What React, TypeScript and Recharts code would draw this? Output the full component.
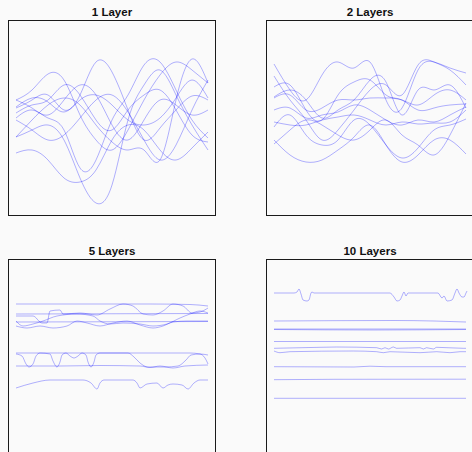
import React from 'react';
import { LineChart, Line, XAxis, YAxis } from 'recharts';

// x grid (step index) for the smooth panels
const GRID_X = [0, 8, 16, 24, 32, 40, 48, 56, 64, 72, 80, 88, 96];

// 1 Layer: ten sampled functions
const LAYER1: number[][] = [
  [78, 85, 90, 75, 37, 12, 30, 95, 130, 145, 120, 90, 65],
  [107, 115, 120, 105, 120, 153, 143, 105, 75, 87, 105, 119, 115],
  [115, 125, 141, 135, 100, 75, 65, 85, 115, 140, 153, 145, 132],
  [102, 110, 115, 130, 120, 95, 85, 105, 120, 125, 105, 80, 73],
  [62, 65, 55, 37, 33, 45, 75, 90, 85, 65, 55, 67, 83],
  [97, 105, 97, 85, 47, 55, 95, 120, 150, 153, 125, 95, 77],
  [108, 117, 113, 103, 115, 120, 110, 95, 90, 97, 117, 135, 117],
  [95, 85, 75, 80, 97, 115, 120, 103, 75, 55, 70, 105, 135],
  [78, 95, 110, 117, 110, 90, 73, 65, 65, 55, 115, 156, 132],
  [115, 107, 100, 115, 130, 120, 90, 75, 95, 115, 110, 100, 105],
];

// 2 Layers
const LAYER2: number[][] = [
  [151, 125, 115, 140, 153, 147, 153, 115, 107, 145, 153, 147, 142],
  [139, 115, 95, 75, 85, 105, 125, 130, 120, 150, 153, 145, 130],
  [128, 130, 105, 95, 120, 133, 135, 120, 115, 110, 120, 125, 115],
  [117, 120, 105, 107, 115, 115, 117, 117, 115, 105, 107, 110, 111],
  [105, 107, 97, 100, 103, 110, 105, 95, 90, 95, 93, 100, 108],
  [93, 90, 90, 95, 98, 100, 95, 90, 93, 91, 92, 93, 105],
  [88, 100, 80, 70, 75, 95, 90, 70, 57, 67, 85, 90, 96],
  [75, 60, 53, 55, 65, 78, 90, 70, 53, 60, 75, 75, 61],
  [71, 85, 95, 90, 80, 75, 85, 95, 80, 70, 60, 80, 112],
  [118, 125, 115, 97, 105, 115, 135, 133, 100, 125, 125, 130, 107],
];

// 5 Layers: [x, value] pairs
const LAYER5: number[][][] = [
  [[0, 150], [67, 150], [87, 149.5], [96, 148]],
  [[0, 138], [8.5, 138], [13, 131], [15.5, 131], [17, 143], [22, 144], [23.5, 140], [32, 141], [40.5, 139], [47, 145], [53.5, 150], [58.5, 148], [63.5, 140], [68.5, 139], [73.5, 143], [78.5, 150], [83.5, 148], [88, 141], [92, 142], [96, 146]],
  [[0, 133], [3.5, 128], [8.5, 130], [13.5, 133], [20.5, 138], [30.5, 140], [38.5, 138], [42, 133], [47, 130], [53.5, 131], [62, 130], [68.5, 128], [75.5, 130], [82, 136], [87, 140], [92, 143], [96, 141]],
  [[0, 128], [5.5, 126], [12, 128], [18.5, 126], [25.5, 128], [30.5, 133], [35.5, 131], [42, 128], [48.5, 131], [55.5, 133], [62, 129], [68.5, 126], [73.5, 128], [78.5, 132], [85.5, 133], [96, 133]],
  [[0, 140], [96, 140.5]],
  [[0, 132], [96, 132.5]],
  [[0, 101], [67, 101], [87, 101], [92, 100], [94.5, 96], [96, 90]],
  [[0, 100], [3, 98], [5, 90], [6.5, 87], [8.5, 90], [10, 98], [12, 101], [17, 100], [18.5, 93], [20.5, 87], [22, 92], [23, 99], [25, 101], [27, 98], [29, 96], [31, 98], [33, 101], [35, 99], [36, 92], [37.5, 87], [39, 92], [40, 99], [42, 101], [56, 101], [59, 97], [62, 91], [66, 87], [74.5, 87], [81, 88], [85, 94], [87.5, 99], [92, 100], [96, 99]],
  [[0, 88], [22, 88], [42, 88.5], [62, 88], [67, 86.5], [72, 88], [78.5, 86], [84.5, 88], [96, 89]],
  [[0, 66], [8.5, 71], [17, 74], [33.5, 74], [37.5, 71], [40.5, 65], [42, 71], [44, 74], [58.5, 74], [60.5, 71], [62, 66], [65.5, 70], [70.5, 71], [73.5, 66], [76, 69], [78.5, 70], [83, 69], [86, 65], [89, 71], [92, 74], [96, 74]],
];

// 10 Layers
const LAYER10: number[][][] = [
  [[0, 161], [10, 161], [11.5, 162], [12.5, 165], [13.5, 160], [14.5, 154], [16.5, 153], [17.5, 154], [18.5, 161], [19, 162], [20, 161], [58, 161], [60, 157], [61.5, 153], [63, 154], [64, 158], [65, 162], [66, 158], [67, 161], [82, 161], [84, 156], [85, 158], [86.5, 153], [89, 154], [90.5, 161], [91.5, 165], [92.5, 161], [94, 157], [95, 157], [96, 161], [96.5, 163]],
  [[0, 133], [60, 133.5], [80, 133], [96, 132]],
  [[0, 125], [96, 125]],
  [[0, 124.5], [50, 124], [96, 124.5]],
  [[0, 112.5], [96, 112.5]],
  [[0, 105.7], [23, 106.7], [31.3, 107], [51.3, 106.3], [53.8, 105], [55.5, 106.3], [57.2, 105], [59.7, 107], [61.3, 105.7], [73, 106.3], [74.7, 105], [76.3, 106.3], [79.7, 105], [81.3, 106.7], [94.7, 105.7], [96, 105.7]],
  [[0, 103], [3, 101.3], [8, 102.3], [39.7, 103], [51.3, 102.3], [54.7, 101.3], [58, 102.3], [73, 101.3], [81.3, 102.3], [88, 101.3], [93, 102.3], [96, 102.3]],
  [[0, 87.3], [40, 87], [48, 87.8], [56, 87.3], [96, 87.3]],
  [[0, 74.3], [30, 74.7], [96, 74.8]],
  [[0, 55.7], [96, 55.7]],
];

type Pt = { u: number; v: number };

const fromGrid = (rows: number[][]): Pt[][] =>
  rows.map((r) => r.map((v, i) => ({ u: GRID_X[i], v })));
const fromPairs = (rows: number[][][]): Pt[][] =>
  rows.map((r) => r.map(([u, v]) => ({ u, v })));

const W = 206;
const H = 194;

function Panel({
  title,
  left,
  top,
  series,
  curve,
}: {
  title: string;
  left: number;
  top: number;
  series: Pt[][];
  curve: 'natural' | 'monotone';
}) {
  return (
    <>
      <div
        style={{
          position: 'absolute',
          left: left + 44,
          top: top - 14,
          width: 120,
          textAlign: 'center',
          fontFamily: '"Liberation Sans", Arial, sans-serif',
          fontWeight: 'bold',
          fontSize: 11.5,
          lineHeight: '12px',
          color: '#111',
        }}
      >
        {title}
      </div>
      <div
        style={{
          position: 'absolute',
          left,
          top,
          width: W,
          height: H,
          border: '1px solid #1a1a1a',
          background: '#fafafa',
        }}
      >
        <LineChart width={W} height={H} margin={{ top: 0, right: 0, bottom: 0, left: 0 }}>
          <XAxis type="number" dataKey="u" domain={[-3.5, 99.5]} allowDataOverflow hide />
          <YAxis type="number" domain={[0, 194]} allowDataOverflow hide />
          {series.map((s, i) => (
            <Line
              key={i}
              data={s}
              dataKey="v"
              type={curve}
              stroke="#0000ff"
              strokeOpacity={0.3}
              strokeWidth={1}
              dot={false}
              activeDot={false}
              isAnimationActive={false}
            />
          ))}
        </LineChart>
      </div>
    </>
  );
}

export default function App() {
  return (
    <div
      style={{
        position: 'absolute',
        left: 0,
        top: 0,
        width: 472,
        height: 452,
        overflow: 'hidden',
        background: '#fafafa',
      }}
    >
      <Panel title="1 Layer" left={8} top={20} series={fromGrid(LAYER1)} curve="natural" />
      <Panel title="2 Layers" left={266} top={20} series={fromGrid(LAYER2)} curve="natural" />
      <Panel title="5 Layers" left={8} top={259} series={fromPairs(LAYER5)} curve="monotone" />
      <Panel title="10 Layers" left={266} top={259} series={fromPairs(LAYER10)} curve="monotone" />
    </div>
  );
}
